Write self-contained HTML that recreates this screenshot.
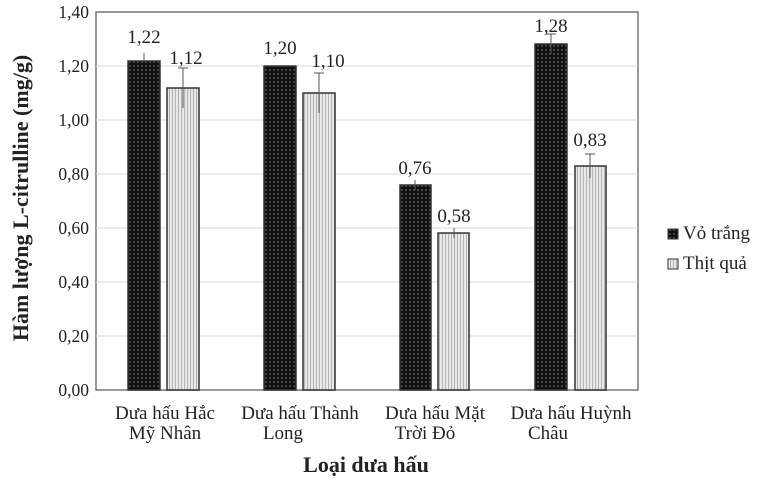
<!DOCTYPE html>
<html><head><meta charset="utf-8"><style>
body{margin:0;background:#fff;}
svg text{font-family:"Liberation Serif",serif;fill:#222;}
</style></head><body>
<svg width="759" height="492" xmlns="http://www.w3.org/2000/svg">
<defs>
<pattern id="dk" width="4" height="4" patternUnits="userSpaceOnUse">
<rect width="4" height="4" fill="#111"/><circle cx="2" cy="2" r="0.9" fill="#666"/></pattern>
<pattern id="lt" width="3" height="3" patternUnits="userSpaceOnUse">
<rect width="3" height="3" fill="#e8e8e8"/><rect x="1" y="0" width="1" height="3" fill="#b4b4b4"/></pattern>
</defs>
<rect x="96" y="12" width="542" height="378" fill="#fff" stroke="#777" stroke-width="1.5"/>
<g stroke="#d8d8d8" stroke-width="1">
<line x1="96" x2="638" y1="66" y2="66"/><line x1="96" x2="638" y1="120" y2="120"/>
<line x1="96" x2="638" y1="174" y2="174"/><line x1="96" x2="638" y1="228" y2="228"/>
<line x1="96" x2="638" y1="282" y2="282"/><line x1="96" x2="638" y1="336" y2="336"/>
</g>
<g font-size="17.5" text-anchor="end">
<text x="89" y="18">1,40</text><text x="89" y="72">1,20</text><text x="89" y="126">1,00</text>
<text x="89" y="180">0,80</text><text x="89" y="234">0,60</text><text x="89" y="288">0,40</text>
<text x="89" y="342">0,20</text><text x="89" y="396">0,00</text>
</g>
<g stroke="#333" stroke-width="1.5">
<rect x="128" y="61" width="32" height="329" fill="url(#dk)"/>
<rect x="167" y="88" width="32" height="302" fill="url(#lt)"/>
<rect x="264" y="66" width="32" height="324" fill="url(#dk)"/>
<rect x="303" y="93" width="32" height="297" fill="url(#lt)"/>
<rect x="400" y="185" width="31" height="205" fill="url(#dk)"/>
<rect x="438" y="233" width="31" height="157" fill="url(#lt)"/>
<rect x="535" y="44" width="32" height="346" fill="url(#dk)"/>
<rect x="575" y="166" width="31" height="224" fill="url(#lt)"/>
</g>
<g stroke="#555" stroke-width="1">
<line x1="144" x2="144" y1="53" y2="61"/><line x1="183" x2="183" y1="68" y2="108"/><line x1="178" x2="188" y1="68" y2="68"/>
<line x1="319" x2="319" y1="73" y2="113"/><line x1="314" x2="324" y1="73" y2="73"/>
<line x1="415" x2="415" y1="180" y2="190"/><line x1="454" x2="454" y1="228" y2="238"/>
<line x1="551" x2="551" y1="34" y2="54"/><line x1="546" x2="556" y1="34" y2="34"/>
<line x1="590" x2="590" y1="154" y2="178"/><line x1="585" x2="595" y1="154" y2="154"/>
</g>
<g font-size="19" text-anchor="middle">
<text x="144" y="43">1,22</text><text x="186" y="64">1,12</text>
<text x="280" y="54">1,20</text><text x="328" y="67">1,10</text>
<text x="415" y="174">0,76</text><text x="454" y="222">0,58</text>
<text x="551" y="32">1,28</text><text x="590" y="146">0,83</text>
</g>
<g font-size="19" text-anchor="middle">
<text x="165" y="419">Dưa hấu Hắc</text><text x="165" y="439">Mỹ Nhân</text>
<text x="300" y="419">Dưa hấu Thành</text><text x="283" y="439">Long</text>
<text x="435" y="419">Dưa hấu Mặt</text><text x="425" y="439">Trời Đỏ</text>
<text x="571" y="419">Dưa hấu Huỳnh</text><text x="548" y="439">Châu</text>
</g>
<text x="366" y="472" font-size="22" font-weight="bold" text-anchor="middle">Loại dưa hấu</text>
<text transform="translate(28,198) rotate(-90)" font-size="22" font-weight="bold" text-anchor="middle">Hàm lượng L-citrulline (mg/g)</text>
<rect x="668" y="229" width="10" height="10" fill="url(#dk)" stroke="#333"/>
<text x="683" y="239" font-size="19">Vỏ trắng</text>
<rect x="668" y="259" width="10" height="10" fill="url(#lt)" stroke="#333"/>
<text x="683" y="269" font-size="19">Thịt quả</text>
</svg>
</body></html>
